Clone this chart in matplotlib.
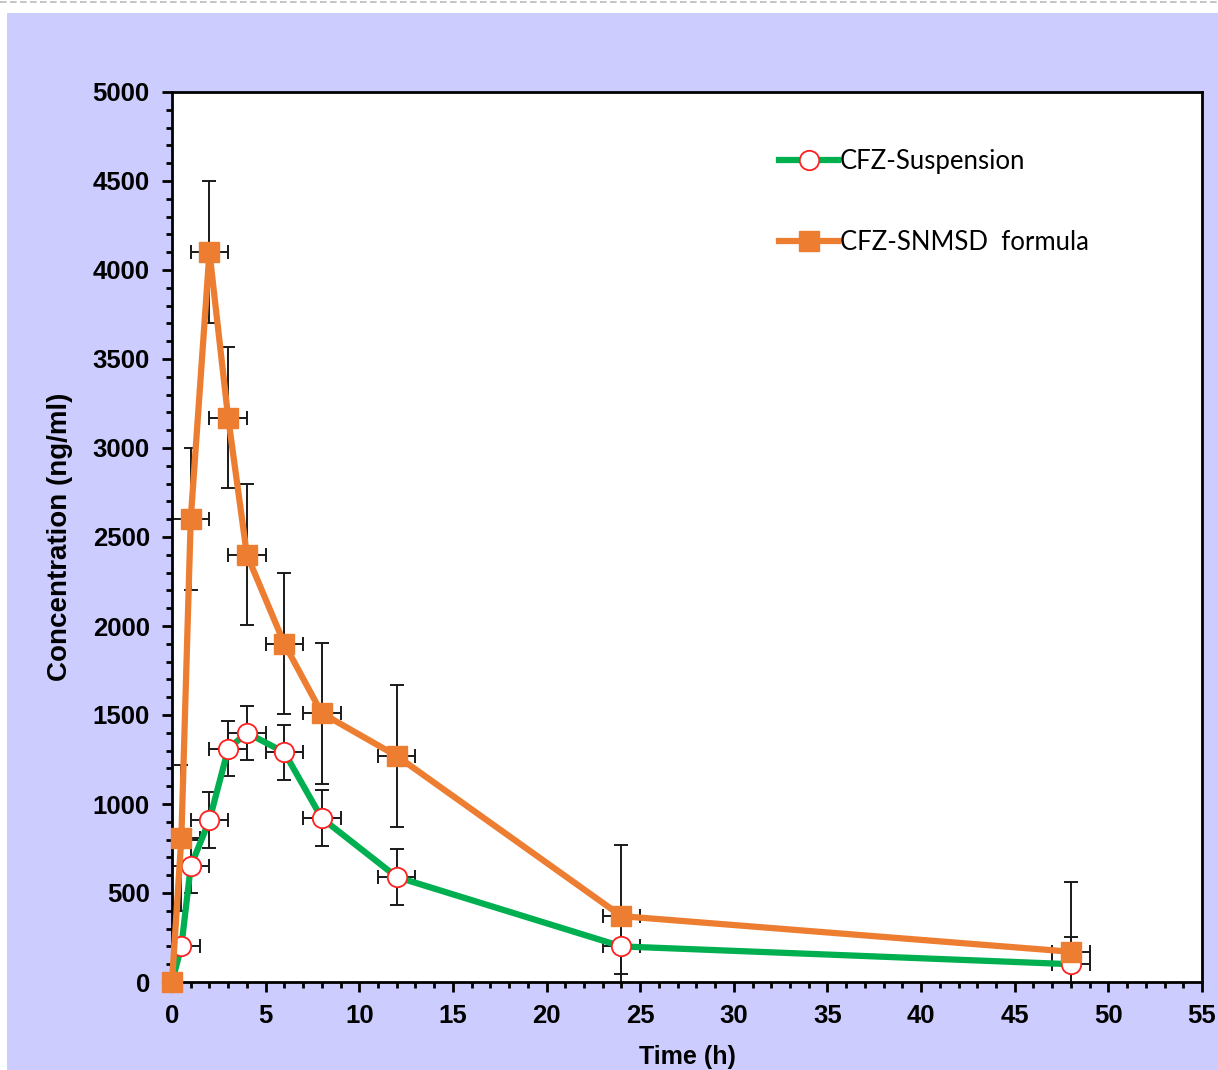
import matplotlib
matplotlib.use("Agg")
import matplotlib.pyplot as plt
from matplotlib.patches import Rectangle
from matplotlib.lines import Line2D
from matplotlib.ticker import MultipleLocator

# data
time_h = [0, 0.5, 1, 2, 3, 4, 6, 8, 12, 24, 48]
susp = [0, 200, 650, 910, 1310, 1400, 1290, 920, 590, 200, 100]
susp_err = [0, 40, 150, 155, 155, 150, 155, 157, 155, 155, 155]
snmsd = [0, 810, 2600, 4100, 3170, 2400, 1900, 1510, 1270, 370, 170]
snmsd_err = [0, 410, 400, 400, 395, 395, 395, 395, 400, 400, 390]
time_err = [0, 1, 1, 1, 1, 1, 1, 1, 1, 1, 1]

green = '#00b050'
orange = '#ed7d31'

fig = plt.figure(figsize=(12.18, 10.70), dpi=100, facecolor='white')

# lavender panel behind the chart
fig.patches.append(Rectangle((7 / 1218, 0), 1 - 7 / 1218, 1 - 13 / 1070,
                             transform=fig.transFigure, facecolor='#ccccff',
                             edgecolor='none', zorder=-10))
fig.lines.append(Line2D([0, 1], [1 - 2 / 1070, 1 - 2 / 1070], transform=fig.transFigure,
                        color='#bbbbbb', lw=1.2, ls=(0, (4, 2)), zorder=-10))

ax = fig.add_axes([172 / 1218, 1 - 982 / 1070, 1030 / 1218, 890 / 1070])
ax.set_facecolor('white')

# error bars
ax.errorbar(time_h, susp, yerr=susp_err, xerr=time_err, fmt='none', ecolor='#1a1a1a',
            elinewidth=1.4, capsize=5, capthick=1.4, zorder=2)
ax.errorbar(time_h, snmsd, yerr=snmsd_err, xerr=time_err, fmt='none', ecolor='#1a1a1a',
            elinewidth=1.4, capsize=5, capthick=1.4, zorder=2)

# lines
ax.plot(time_h, susp, '-', color=green, lw=4.5, marker='o', markersize=14,
        markerfacecolor='white', markeredgecolor='#ff2020', markeredgewidth=1.3,
        label='CFZ-Suspension', zorder=3, clip_on=False)
ax.plot(time_h, snmsd, '-', color=orange, lw=4.5, marker='s', markersize=15,
        markerfacecolor=orange, markeredgecolor=orange,
        label='CFZ-SNMSD  formula', zorder=4, clip_on=False)

ax.set_xlim(0, 55)
ax.set_ylim(0, 5000)
ax.xaxis.set_major_locator(MultipleLocator(5))
ax.xaxis.set_minor_locator(MultipleLocator(1))
ax.yaxis.set_major_locator(MultipleLocator(500))
ax.yaxis.set_minor_locator(MultipleLocator(100))
ax.tick_params(which='major', direction='out', length=7, width=2)
ax.tick_params(which='minor', direction='out', length=4, width=2)
ax.tick_params(axis='y', which='major', pad=9)
ax.tick_params(axis='x', which='major', pad=9)
for s in ax.spines.values():
    s.set_linewidth(2)
    s.set_color('black')

for lab in ax.get_xticklabels() + ax.get_yticklabels():
    lab.set_fontfamily('Liberation Sans')
    lab.set_fontweight('bold')
    lab.set_fontsize(18.5)

ax.set_xlabel('Time (h)', fontsize=18, fontweight='bold', family='Liberation Sans', labelpad=12)
ax.set_ylabel('Concentration (ng/ml)', fontsize=20, fontweight='bold', family='Liberation Sans',
              labelpad=14)

leg = ax.legend(loc='upper left', bbox_to_anchor=(0.567, 0.962), frameon=False,
                prop={'family': 'Lato', 'size': 18.5}, handlelength=2.3,
                labelspacing=2.2, handletextpad=0.05)

fig.savefig('out.png', dpi=100, facecolor=fig.get_facecolor())
